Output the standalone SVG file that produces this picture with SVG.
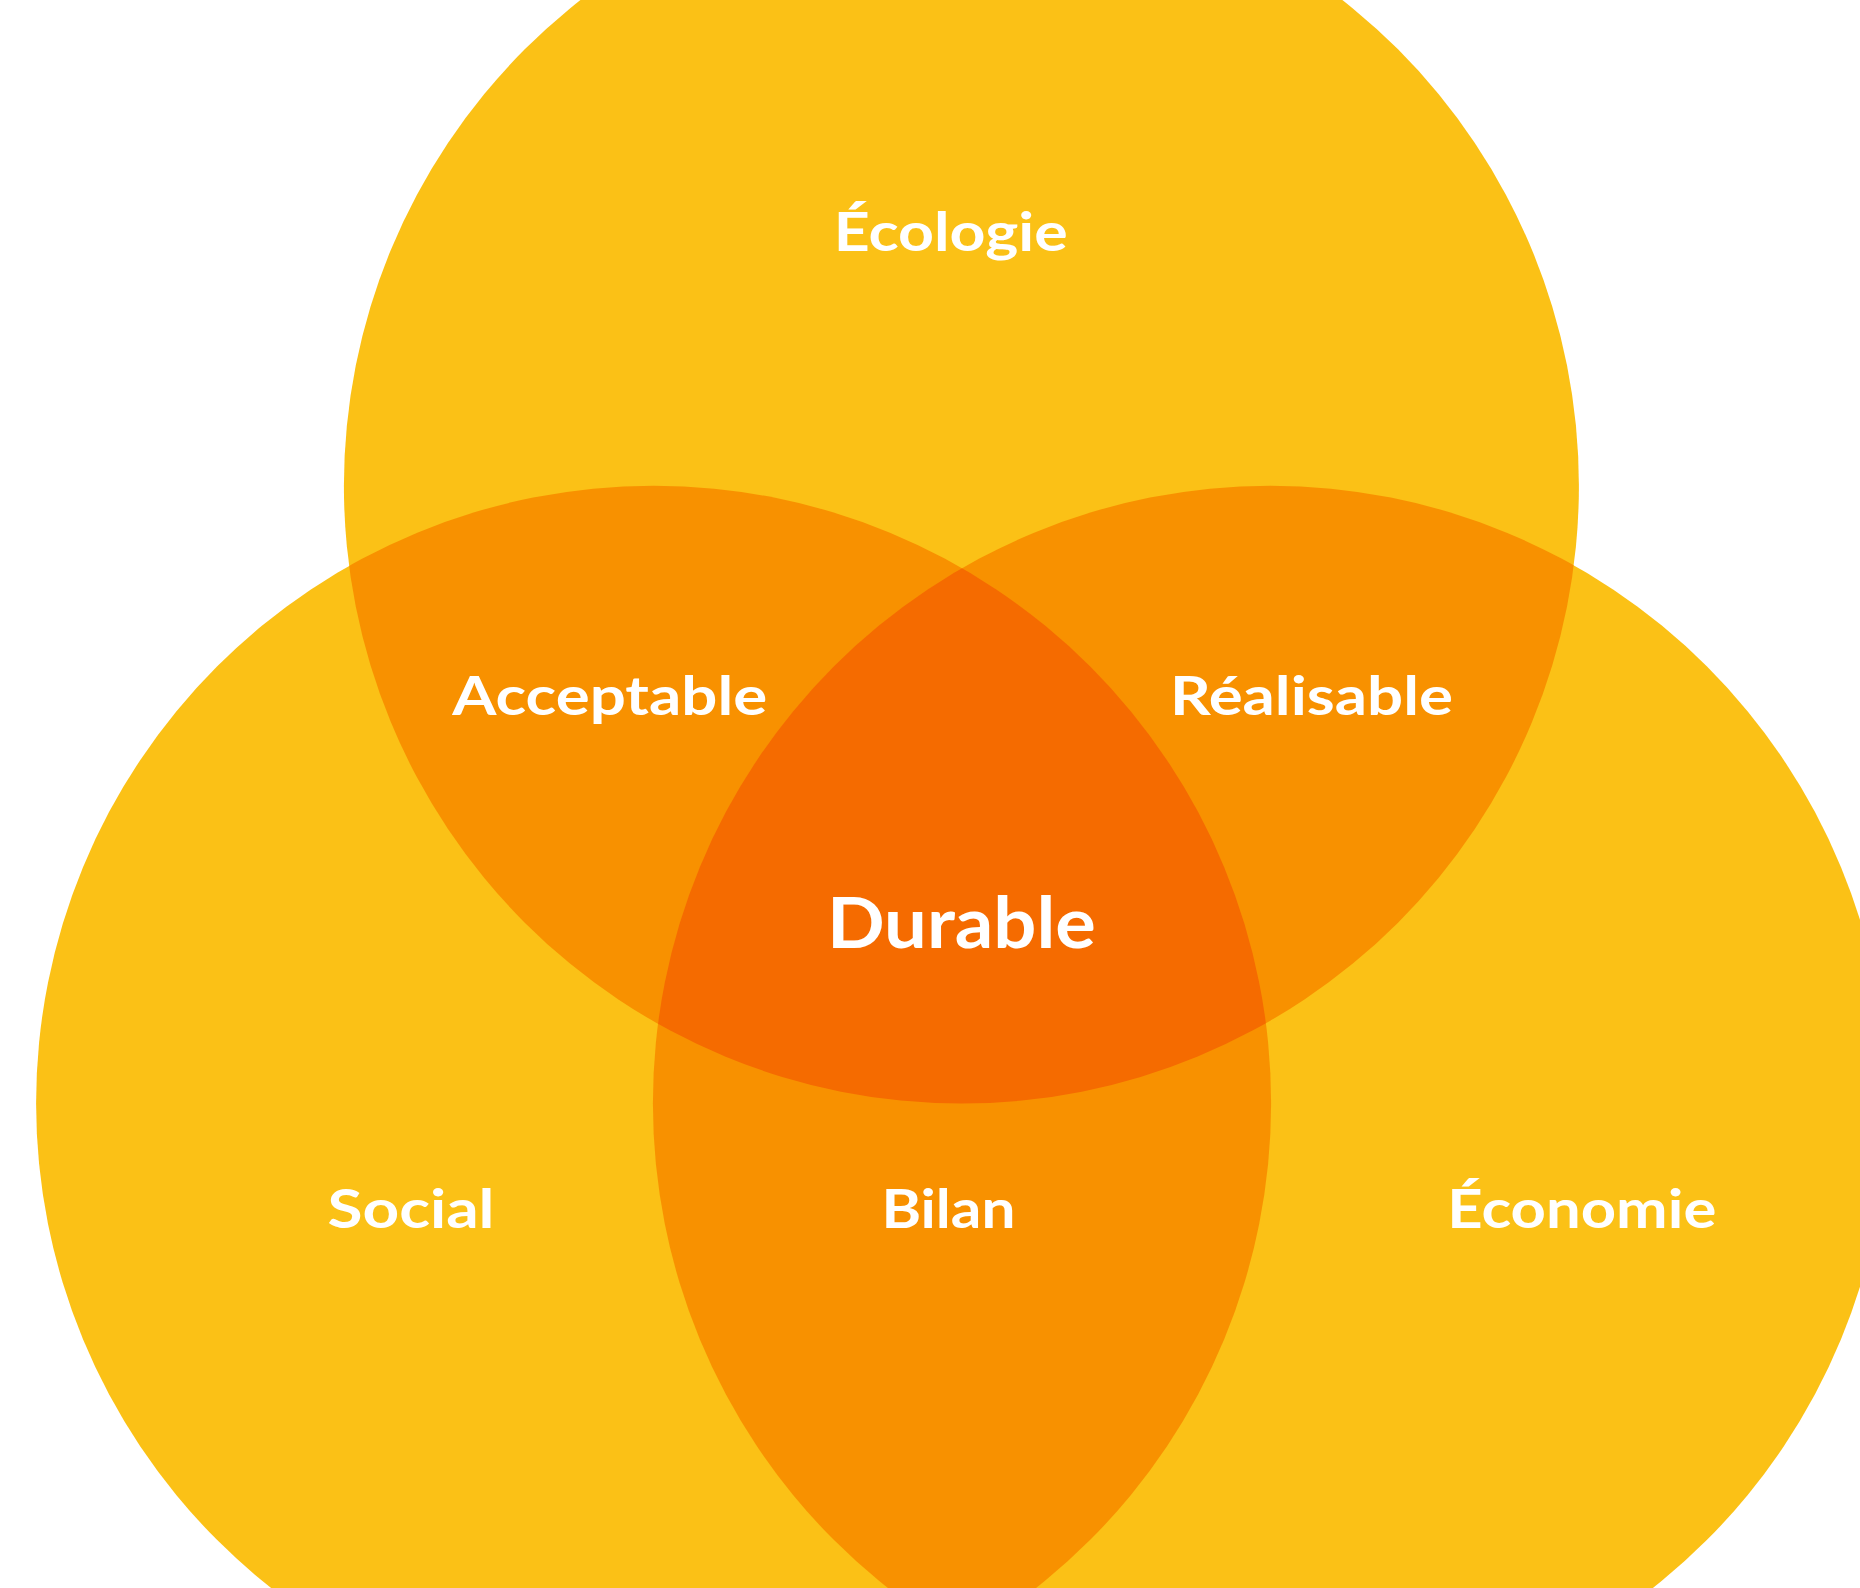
<svg xmlns="http://www.w3.org/2000/svg" width="1860" height="1588" viewBox="0 0 1860 1588">
<style>
.c{fill:#FBC116}
.p{fill:#F89100}
.t{fill:#F56B00}
text{font-family:Lato,"Open Sans","Liberation Sans",sans-serif;font-weight:700;fill:#FFFFFF;text-anchor:middle}
.s{font-size:54px}
.b{font-size:70px}
</style>
<defs>
<clipPath id="cTop"><circle cx="961.4" cy="486" r="617.5"/></clipPath>
<clipPath id="cBL"><circle cx="653.6" cy="1103.2" r="617.5"/></clipPath>
<clipPath id="cBR"><circle cx="1270.4" cy="1103.2" r="617.5"/></clipPath>
</defs>
<rect width="1860" height="1588" fill="#FFFFFF"/>
<g id="circles">
<circle id="ecologie-circle" class="c" cx="961.4" cy="486" r="617.5"/>
<circle id="social-circle" class="c" cx="653.6" cy="1103.2" r="617.5"/>
<circle id="economie-circle" class="c" cx="1270.4" cy="1103.2" r="617.5"/>
<g clip-path="url(#cTop)"><circle class="p" cx="653.6" cy="1103.2" r="617.5"/><circle class="p" cx="1270.4" cy="1103.2" r="617.5"/></g>
<g clip-path="url(#cBL)"><circle class="p" cx="1270.4" cy="1103.2" r="617.5"/></g>
<g clip-path="url(#cTop)"><g clip-path="url(#cBL)"><circle class="t" cx="1270.4" cy="1103.2" r="617.5"/></g></g>
</g>
<g id="labels">
<g id="n-ecologie"><text class="s" x="950.7" y="251" textLength="234" lengthAdjust="spacingAndGlyphs">Écologie</text></g>
<g id="n-acceptable"><text class="s" x="609.7" y="715" textLength="315" lengthAdjust="spacingAndGlyphs">Acceptable</text></g>
<g id="n-realisable"><text class="s" x="1311.4" y="715" textLength="283" lengthAdjust="spacingAndGlyphs">Réalisable</text></g>
<g id="n-durable"><text class="b" x="961.4" y="948" textLength="269" lengthAdjust="spacingAndGlyphs">Durable</text></g>
<g id="n-social"><text class="s" x="411" y="1228" textLength="167" lengthAdjust="spacingAndGlyphs">Social</text></g>
<g id="n-bilan"><text class="s" x="948.4" y="1228" textLength="134" lengthAdjust="spacingAndGlyphs">Bilan</text></g>
<g id="n-economie"><text class="s" x="1581.8" y="1228" textLength="269" lengthAdjust="spacingAndGlyphs">Économie</text></g>
</g>
<g id="connectors"></g>
</svg>
